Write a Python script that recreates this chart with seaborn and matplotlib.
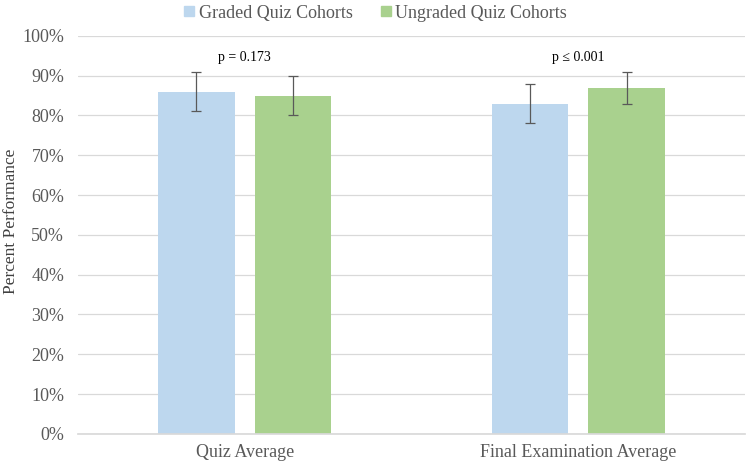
import pandas as pd
import seaborn as sns
import matplotlib.pyplot as plt
from matplotlib.lines import Line2D
from matplotlib.ticker import PercentFormatter

# Data
categories = ["Quiz Average", "Final Examination Average"]
groups = ["Graded Quiz Cohorts", "Ungraded Quiz Cohorts"]
graded = [86, 83]
ungraded = [85, 87]
graded_err = [5, 5]
ungraded_err = [5, 4]
p_labels = ["p = 0.173", "p \u2264 0.001"]

colors = ["#BDD7EE", "#A9D18E"]

df = pd.DataFrame({
    "Category": categories * 2,
    "Group": [groups[0]] * 2 + [groups[1]] * 2,
    "Value": graded + ungraded,
    "Err": graded_err + ungraded_err,
})

sns.set_theme(style="whitegrid")
plt.rcParams["font.family"] = ["Liberation Serif", "DejaVu Serif"]

fig = plt.figure(figsize=(7.51, 4.66), dpi=100)
ax = fig.add_axes([0.104, 0.069, 0.888, 0.854])

sns.barplot(data=df, x="Category", y="Value", hue="Group", order=categories,
            hue_order=groups, palette=colors, width=0.58, gap=0.21,
            errorbar=None, legend=False, ax=ax, saturation=1, linewidth=0)

# Error bars at the bar centres
for patch, (_, row) in zip(ax.patches, df.iterrows()):
    cx = patch.get_x() + patch.get_width() / 2
    ax.errorbar(cx, row["Value"], yerr=row["Err"], fmt="none",
                ecolor="#595959", elinewidth=0.9, capsize=3.5, capthick=0.9)

# p-value annotations
for i, lab in enumerate(p_labels):
    ax.text(i, 94.5, lab, ha="center", va="center", fontsize=10, color="black")

ax.set_ylim(0, 100)
ax.set_yticks(range(0, 101, 10))
ax.yaxis.set_major_formatter(PercentFormatter(decimals=0))
ax.set_xlim(-0.5, 1.5)
ax.set_xlabel("")
ax.set_ylabel("")
fig.text(0.014, 0.526, "Percent Performance", rotation=90, ha="center",
         va="center", fontsize=12.5, color="#404040")
ax.tick_params(axis="both", labelsize=13, colors="#595959", length=0)
ax.tick_params(axis="y", pad=10)
ax.tick_params(axis="x", pad=7)
ax.grid(axis="y", color="#D9D9D9", linewidth=0.9)
ax.grid(axis="x", visible=False)
for s in ["top", "right", "left"]:
    ax.spines[s].set_visible(False)
ax.spines["bottom"].set_color("#D9D9D9")

handles = [Line2D([], [], marker="s", linestyle="none", markersize=7.5,
                  markerfacecolor=c, markeredgecolor=c) for c in colors]
fig.legend(handles, groups, loc="upper center", bbox_to_anchor=(0.5, 1.025),
           ncol=2, frameon=False, fontsize=13, handlelength=0.6,
           handletextpad=0.25, columnspacing=1.5, labelcolor="#595959")

plt.savefig("out.png", dpi=100)
